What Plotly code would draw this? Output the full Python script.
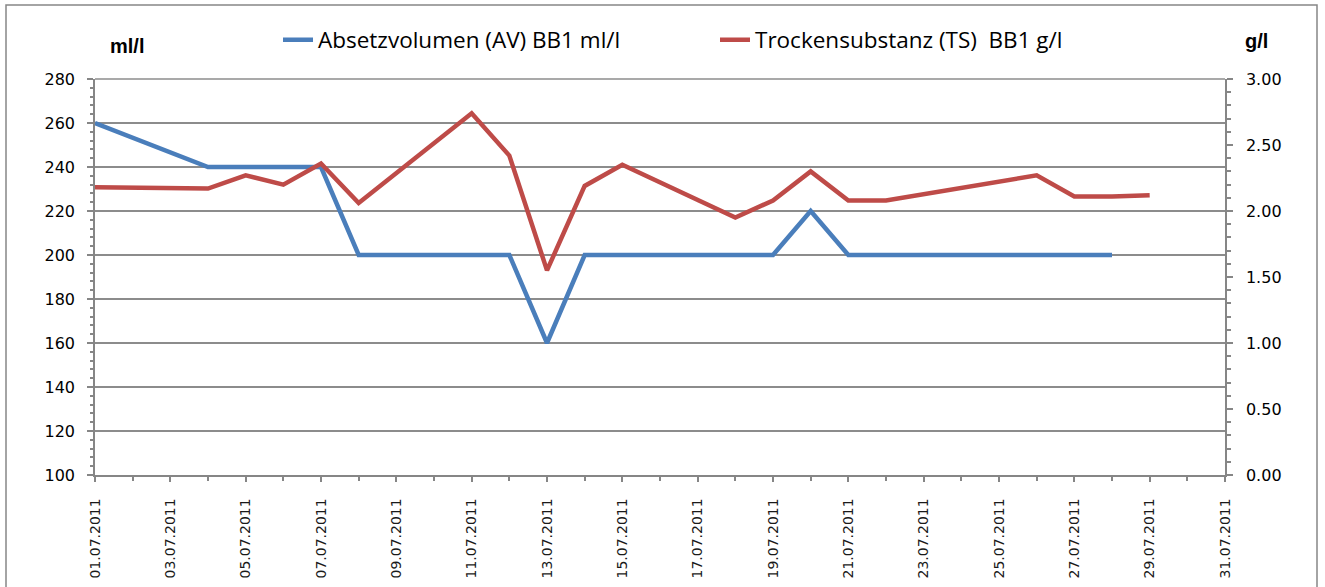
import plotly.graph_objects as go

# ---- data ----
av_dates = ["2011-07-01", "2011-07-04", "2011-07-05", "2011-07-06", "2011-07-07",
            "2011-07-08", "2011-07-11", "2011-07-12", "2011-07-13", "2011-07-14",
            "2011-07-15", "2011-07-18", "2011-07-19", "2011-07-20", "2011-07-21",
            "2011-07-22", "2011-07-26", "2011-07-27", "2011-07-28"]
av_values = [260, 240, 240, 240, 240, 200, 200, 200, 160, 200,
             200, 200, 200, 220, 200, 200, 200, 200, 200]

ts_dates = ["2011-07-01", "2011-07-04", "2011-07-05", "2011-07-06", "2011-07-07",
            "2011-07-08", "2011-07-11", "2011-07-12", "2011-07-13", "2011-07-14",
            "2011-07-15", "2011-07-18", "2011-07-19", "2011-07-20", "2011-07-21",
            "2011-07-22", "2011-07-26", "2011-07-27", "2011-07-28", "2011-07-29"]
ts_values = [2.18, 2.17, 2.27, 2.20, 2.36, 2.06, 2.74, 2.42, 1.55, 2.19,
             2.35, 1.95, 2.08, 2.30, 2.08, 2.08, 2.27, 2.11, 2.11, 2.12]

av_name = "Absetzvolumen (AV) BB1 ml/l"
ts_name = "Trockensubstanz (TS)  BB1 g/l"

x_range = ["2011-07-01", "2011-07-31"]
left_range = [100, 280]
right_range = [0, 3]

BLUE = "#4A7EBB"
RED = "#BE4B48"
GRID = "#8C8C8C"
AXIS = "#868686"
DAY_MS = 86400000

fig = go.Figure()
fig.add_trace(go.Scatter(x=av_dates, y=av_values, name=av_name, mode="lines",
                         line=dict(color=BLUE, width=4.5), yaxis="y"))
fig.add_trace(go.Scatter(x=ts_dates, y=ts_values, name=ts_name, mode="lines",
                         line=dict(color=RED, width=4.5), yaxis="y2"))

W, H = 1325, 587
L, R, T, B = 95, 100, 79, 112
pw, ph = W - L - R, H - T - B

def px(x):
    return (x - L) / pw

def py(y):
    return (H - B - y) / ph

fig.update_layout(
    width=W, height=H,
    margin=dict(l=L, r=R, t=T, b=B, pad=0, autoexpand=False),
    paper_bgcolor="white", plot_bgcolor="white",
    font=dict(family="DejaVu Sans", color="#000000"),
    showlegend=True,
    legend=dict(orientation="h", x=px(278), y=py(40), xanchor="left", yanchor="middle",
                entrywidth=392, entrywidthmode="pixels",
                font=dict(family="Open Sans", size=22.5, color="#000000"),
                bgcolor="rgba(0,0,0,0)", itemwidth=30, tracegroupgap=0),
    xaxis=dict(type="date", range=x_range, tick0="2011-07-01", dtick=2 * DAY_MS,
               tickformat="%d.%m.%Y", tickangle=-90, automargin=False,
               tickfont=dict(family="DejaVu Sans", size=14, color="#1a1a1a"),
               showgrid=False, showline=True, linecolor=AXIS, linewidth=1.5,
               ticks="outside", ticklen=5, tickcolor=AXIS, tickwidth=1.5,
               ticklabelstandoff=11,
               minor=dict(dtick=DAY_MS, tick0="2011-07-01", ticks="outside", ticklen=4,
                          tickcolor=AXIS, showgrid=False),
               zeroline=False, fixedrange=True),
    yaxis=dict(range=left_range, dtick=20, tick0=100, automargin=False,
               tickfont=dict(family="DejaVu Sans", size=16, color="#000000"),
               showgrid=True, gridcolor=GRID, gridwidth=1.5,
               showline=True, linecolor=AXIS, linewidth=1.5,
               ticks="outside", ticklen=6, tickcolor=AXIS, tickwidth=1.5,
               ticklabelstandoff=9,
               minor=dict(dtick=4, ticks="outside", ticklen=3, tickcolor=AXIS, showgrid=False),
               zeroline=False),
    yaxis2=dict(range=right_range, dtick=0.5, tick0=0, tickformat=".2f",
                overlaying="y", side="right", automargin=False,
                tickfont=dict(family="DejaVu Sans", size=16, color="#000000"),
                showgrid=False, showline=True, linecolor=AXIS, linewidth=1.5,
                ticks="outside", ticklen=6, tickcolor=AXIS, tickwidth=1.5,
                ticklabelstandoff=10,
                minor=dict(dtick=0.1, ticks="outside", ticklen=4, tickcolor=AXIS),
                zeroline=False),
    annotations=[
        dict(text="<b>ml/l</b>", xref="paper", yref="paper", x=px(127), y=py(46),
             showarrow=False, xanchor="center", yanchor="middle",
             font=dict(family="Liberation Sans", size=20, color="#000000")),
        dict(text="<b>g/l</b>", xref="paper", yref="paper", x=px(1256), y=py(41),
             showarrow=False, xanchor="center", yanchor="middle",
             font=dict(family="Liberation Sans", size=20, color="#000000")),
    ],
    shapes=[
        dict(type="rect", xref="paper", yref="paper", layer="below",
             x0=px(6), x1=px(1317), y0=py(620), y1=py(5),
             line=dict(color=AXIS, width=1.5), fillcolor="rgba(0,0,0,0)"),
        dict(type="line", xref="paper", yref="paper", x0=0, x1=1, y0=1, y1=1,
             line=dict(color=GRID, width=1.5)),
    ],
)

fig.write_html("out.html", config={"displayModeBar": False},
               post_script="document.body.style.margin='0px';document.body.style.padding='0px';")
